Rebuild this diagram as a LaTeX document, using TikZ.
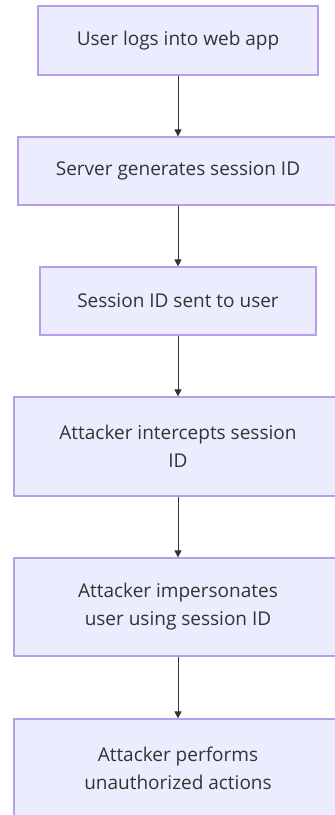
\documentclass[tikz,border=0pt]{standalone}
\usepackage{fontspec}
\setmainfont{Open Sans}
\usetikzlibrary{arrows.meta}
\definecolor{boxfill}{HTML}{ECECFF}
\definecolor{boxline}{HTML}{B89EEA}
\definecolor{ink}{HTML}{333333}
\tikzset{
  flowbox/.style={draw=boxline, fill=boxfill, line width=1.2pt, rectangle, inner sep=0pt,
    text=ink, align=center, font=\fontsize{19}{28}\selectfont},
  flowarrow/.style={draw=ink, line width=0.9pt, -{Triangle[length=7pt,width=7pt]}}
}
\begin{document}
\begin{tikzpicture}[x=1pt,y=1pt]
\useasboundingbox (0,0) rectangle (335,-815);
\clip (0,0) rectangle (335,-815);
\node[flowbox, minimum width=280, minimum height=69] (a) at (178,-40.5) {User logs into web app};
\node[flowbox, minimum width=320, minimum height=68] (b) at (178,-171) {Server generates session ID};
\node[flowbox, minimum width=276, minimum height=68] (c) at (178,-301) {Session ID sent to user};
\node[flowbox, minimum width=328, minimum height=99] (d) at (178,-446.5) {Attacker intercepts session\\ID};
\node[flowbox, minimum width=328, minimum height=98] (e) at (178,-607) {Attacker impersonates\\user using session ID};
\node[flowbox, minimum width=328, minimum height=99] (f) at (178,-768.5) {Attacker performs\\unauthorized actions};
\draw[flowarrow] (a) -- (b);
\draw[flowarrow] (b) -- (c);
\draw[flowarrow] (c) -- (d);
\draw[flowarrow] (d) -- (e);
\draw[flowarrow] (e) -- (f);
\end{tikzpicture}
\end{document}
